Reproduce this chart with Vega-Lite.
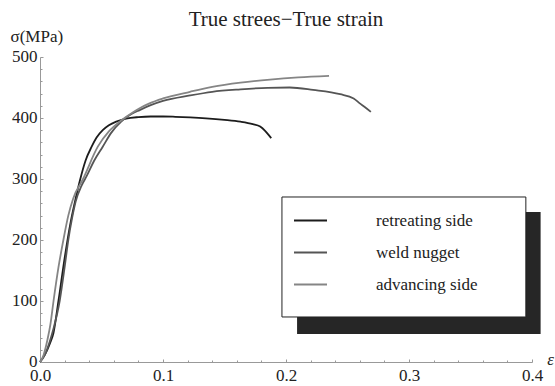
{
  "$schema": "https://vega.github.io/schema/vega-lite/v6.json",
  "width": 492,
  "height": 305,
  "autosize": "none",
  "padding": {"left": 40, "top": 57, "right": 23, "bottom": 24},
  "background": "white",
  "title": {"text": "True strees−True strain", "font": "Liberation Serif", "fontSize": 21, "fontWeight": "normal", "color": "#222222", "frame": "group", "anchor": "middle", "baseline": "alphabetic", "offset": -20},
  "config": {"view": {"stroke": null}, "font": "Liberation Serif"},
  "datasets": {
    "curves": [
      {"side": "retreating side", "strain": 0, "stress": 0},
      {"side": "retreating side", "strain": 0.004, "stress": 12},
      {"side": "retreating side", "strain": 0.008, "stress": 30},
      {"side": "retreating side", "strain": 0.011, "stress": 48},
      {"side": "retreating side", "strain": 0.015, "stress": 100},
      {"side": "retreating side", "strain": 0.02, "stress": 170},
      {"side": "retreating side", "strain": 0.025, "stress": 230},
      {"side": "retreating side", "strain": 0.029, "stress": 268},
      {"side": "retreating side", "strain": 0.0325, "stress": 298},
      {"side": "retreating side", "strain": 0.037, "stress": 330},
      {"side": "retreating side", "strain": 0.042, "stress": 353},
      {"side": "retreating side", "strain": 0.046, "stress": 368},
      {"side": "retreating side", "strain": 0.051, "stress": 380},
      {"side": "retreating side", "strain": 0.056, "stress": 388},
      {"side": "retreating side", "strain": 0.062, "stress": 394},
      {"side": "retreating side", "strain": 0.07, "stress": 399},
      {"side": "retreating side", "strain": 0.08, "stress": 401.5},
      {"side": "retreating side", "strain": 0.09, "stress": 402.5},
      {"side": "retreating side", "strain": 0.1, "stress": 402.5},
      {"side": "retreating side", "strain": 0.11, "stress": 402},
      {"side": "retreating side", "strain": 0.122, "stress": 401},
      {"side": "retreating side", "strain": 0.135, "stress": 399.5},
      {"side": "retreating side", "strain": 0.15, "stress": 397},
      {"side": "retreating side", "strain": 0.163, "stress": 394},
      {"side": "retreating side", "strain": 0.173, "stress": 390},
      {"side": "retreating side", "strain": 0.179, "stress": 386},
      {"side": "retreating side", "strain": 0.183, "stress": 379},
      {"side": "retreating side", "strain": 0.186, "stress": 372},
      {"side": "retreating side", "strain": 0.188, "stress": 367},
      {"side": "weld nugget", "strain": 0, "stress": 0},
      {"side": "weld nugget", "strain": 0.004, "stress": 12},
      {"side": "weld nugget", "strain": 0.008, "stress": 34},
      {"side": "weld nugget", "strain": 0.011, "stress": 55},
      {"side": "weld nugget", "strain": 0.016, "stress": 100},
      {"side": "weld nugget", "strain": 0.02, "stress": 155},
      {"side": "weld nugget", "strain": 0.023, "stress": 200},
      {"side": "weld nugget", "strain": 0.026, "stress": 235},
      {"side": "weld nugget", "strain": 0.029, "stress": 263},
      {"side": "weld nugget", "strain": 0.034, "stress": 290},
      {"side": "weld nugget", "strain": 0.038, "stress": 305},
      {"side": "weld nugget", "strain": 0.044, "stress": 330},
      {"side": "weld nugget", "strain": 0.051, "stress": 353},
      {"side": "weld nugget", "strain": 0.058, "stress": 376},
      {"side": "weld nugget", "strain": 0.066, "stress": 394},
      {"side": "weld nugget", "strain": 0.074, "stress": 406},
      {"side": "weld nugget", "strain": 0.081, "stress": 413},
      {"side": "weld nugget", "strain": 0.09, "stress": 421},
      {"side": "weld nugget", "strain": 0.1, "stress": 428},
      {"side": "weld nugget", "strain": 0.122, "stress": 437},
      {"side": "weld nugget", "strain": 0.14, "stress": 443},
      {"side": "weld nugget", "strain": 0.163, "stress": 447},
      {"side": "weld nugget", "strain": 0.185, "stress": 449.5},
      {"side": "weld nugget", "strain": 0.203, "stress": 450},
      {"side": "weld nugget", "strain": 0.222, "stress": 446},
      {"side": "weld nugget", "strain": 0.244, "stress": 439},
      {"side": "weld nugget", "strain": 0.255, "stress": 432},
      {"side": "weld nugget", "strain": 0.26, "stress": 424},
      {"side": "weld nugget", "strain": 0.264, "stress": 418},
      {"side": "weld nugget", "strain": 0.269, "stress": 410},
      {"side": "advancing side", "strain": 0, "stress": 0},
      {"side": "advancing side", "strain": 0.003, "stress": 12},
      {"side": "advancing side", "strain": 0.006, "stress": 36},
      {"side": "advancing side", "strain": 0.0085, "stress": 62},
      {"side": "advancing side", "strain": 0.011, "stress": 100},
      {"side": "advancing side", "strain": 0.015, "stress": 155},
      {"side": "advancing side", "strain": 0.019, "stress": 200},
      {"side": "advancing side", "strain": 0.023, "stress": 240},
      {"side": "advancing side", "strain": 0.027, "stress": 268},
      {"side": "advancing side", "strain": 0.035, "stress": 300},
      {"side": "advancing side", "strain": 0.047, "stress": 353},
      {"side": "advancing side", "strain": 0.056, "stress": 378},
      {"side": "advancing side", "strain": 0.066, "stress": 396},
      {"side": "advancing side", "strain": 0.076, "stress": 410},
      {"side": "advancing side", "strain": 0.081, "stress": 416},
      {"side": "advancing side", "strain": 0.089, "stress": 424},
      {"side": "advancing side", "strain": 0.1, "stress": 432},
      {"side": "advancing side", "strain": 0.122, "stress": 443},
      {"side": "advancing side", "strain": 0.14, "stress": 451},
      {"side": "advancing side", "strain": 0.163, "stress": 458},
      {"side": "advancing side", "strain": 0.187, "stress": 463},
      {"side": "advancing side", "strain": 0.21, "stress": 466.5},
      {"side": "advancing side", "strain": 0.235, "stress": 469}
    ]
  },
  "layer": [
    {
      "data": {"values": [{}]},
      "mark": {"type": "rect", "color": "#262626"},
      "encoding": {
        "x": {"datum": 0.209, "type": "quantitative", "scale": {"domain": [0, 0.4], "nice": false},
              "axis": {"orient": "bottom", "values": [0.02,0.04,0.06,0.08,0.12,0.14,0.16,0.18,0.22,0.24,0.26,0.28,0.32,0.34,0.36,0.38], "labels": false, "domain": false, "tickSize": -2, "tickColor": "#999999", "title": null, "grid": false}},
        "x2": {"datum": 0.407},
        "y": {"datum": 245.9, "type": "quantitative", "scale": {"domain": [0, 500], "nice": false},
              "axis": {"orient": "left", "values": [20,40,60,80,120,140,160,180,220,240,260,280,320,340,360,380,420,440,460,480], "labels": false, "domain": false, "tickSize": -2, "tickColor": "#999999", "title": null, "grid": false}},
        "y2": {"datum": 45.9}
      }
    },
    {
      "data": {"values": [{}]},
      "mark": {"type": "rect", "fill": "white", "stroke": "#222222", "strokeWidth": 1},
      "encoding": {
        "x": {"datum": 0.1967, "type": "quantitative", "scale": {"domain": [0, 0.4], "nice": false}, "axis": null},
        "x2": {"datum": 0.395},
        "y": {"datum": 270.5, "type": "quantitative", "scale": {"domain": [0, 500], "nice": false}, "axis": null},
        "y2": {"datum": 73.8}
      }
    },
    {
      "data": {"name": "curves"},
      "mark": {"type": "line", "interpolate": "monotone", "strokeWidth": 1.8},
      "encoding": {
        "x": {"field": "strain", "type": "quantitative", "scale": {"domain": [0, 0.4], "nice": false},
              "axis": {"orient": "bottom", "values": [0, 0.1, 0.2, 0.3, 0.4], "format": ".1f", "labelFont": "Liberation Serif", "labelFontSize": 17, "labelColor": "#222222", "labelPadding": 8, "labelFlush": false, "domainColor": "#999999", "domainWidth": 1, "tickColor": "#999999", "tickSize": -3, "grid": false,
                       "title": "ε", "titleFont": "Liberation Serif", "titleFontSize": 17, "titleFontStyle": "italic", "titleFontWeight": "normal", "titleColor": "#222222", "titleAngle": 0, "titleX": 510, "titleY": -3, "titleAlign": "center", "titleBaseline": "middle"}},
        "y": {"field": "stress", "type": "quantitative", "scale": {"domain": [0, 500], "nice": false},
              "axis": {"orient": "left", "values": [0, 100, 200, 300, 400, 500], "labelFont": "Liberation Serif", "labelFontSize": 17, "labelColor": "#222222", "labelPadding": 6, "labelOffset": -1, "labelFlush": false, "domainColor": "#999999", "domainWidth": 1, "tickColor": "#999999", "tickSize": -3, "grid": false,
                       "title": "σ(MPa)", "titleFont": "Liberation Serif", "titleFontSize": 17, "titleFontWeight": "normal", "titleColor": "#222222", "titleAngle": 0, "titleX": -30, "titleY": -16, "titleAlign": "left", "titleBaseline": "alphabetic"}},
        "color": {"field": "side", "type": "nominal",
                  "scale": {"domain": ["retreating side", "weld nugget", "advancing side"], "range": ["#1c1c1c", "#555555", "#858585"]},
                  "legend": {"orient": "none", "legendX": 253, "legendY": 146, "title": null, "symbolType": "stroke", "symbolSize": 1089, "symbolStrokeWidth": 2, "labelFont": "Liberation Serif", "labelFontSize": 17, "labelColor": "#222222", "labelOffset": 48, "rowPadding": 6, "padding": 0, "labelLimit": 300}}
      }
    }
  ],
  "resolve": {"axis": {"x": "independent", "y": "independent"}}
}
